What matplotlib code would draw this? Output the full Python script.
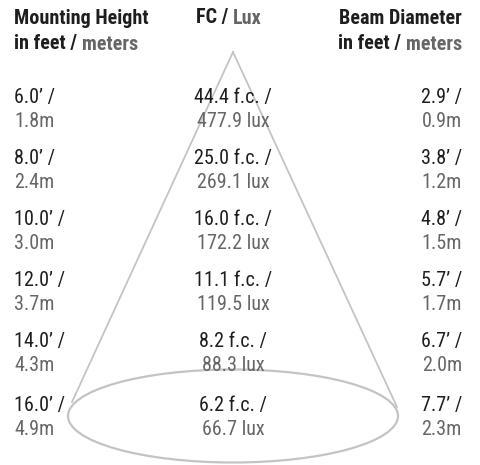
import matplotlib
matplotlib.use("Agg")
import matplotlib.pyplot as plt
from matplotlib.patches import Ellipse

feet = ["6.0’", "8.0’", "10.0’", "12.0’", "14.0’", "16.0’"]
meters = ["1.8m", "2.4m", "3.0m", "3.7m", "4.3m", "4.9m"]
fc = ["44.4 f.c.", "25.0 f.c.", "16.0 f.c.", "11.1 f.c.", "8.2 f.c.", "6.2 f.c."]
lux = ["477.9 lux", "269.1 lux", "172.2 lux", "119.5 lux", "88.3 lux", "66.7 lux"]
beam_ft = ["2.9’", "3.8’", "4.8’", "5.7’", "6.7’", "7.7’"]
beam_m = ["0.9m", "1.2m", "1.5m", "1.7m", "2.0m", "2.3m"]

BLACK = "#1e1e1e"
GREY = "#666666"
LINE = "#c4c4c4"

fig = plt.figure(figsize=(4.8, 4.65), dpi=100)
ax = fig.add_axes([0, 0, 1, 1])
ax.set_xlim(0, 480)
ax.set_ylim(465, 0)
ax.axis("off")

# cone
apex = (233, 52)
ax.plot([apex[0], 72], [apex[1], 402], color=LINE, lw=1.3)
ax.plot([apex[0], 397], [apex[1], 407], color=LINE, lw=1.3)
ax.add_patch(Ellipse((233, 416), 330, 93, fill=False, ec=LINE, lw=1.6))

fs = 14.5
fam = ["Roboto Condensed", "Liberation Sans Narrow", "DejaVu Sans"]

# headers
hdr = dict(fontsize=fs, fontweight="bold", family=fam, va="center")
ax.text(14, 18, "Mounting Height", color=BLACK, ha="left", **hdr)
t = ax.annotate("in feet / ", (14, 44), color=BLACK, ha="left", **hdr)
ax.annotate("meters", xycoords=t, xy=(1, 0.5), color=GREY, ha="left", va="center",
            fontsize=fs, fontweight="bold", family=fam)
t = ax.annotate("FC / ", (196, 18), color=BLACK, ha="left", **hdr)
ax.annotate("Lux", xycoords=t, xy=(1, 0.5), color=GREY, ha="left", va="center",
            fontsize=fs, fontweight="bold", family=fam)
ax.text(462, 18, "Beam Diameter", color=BLACK, ha="right", **hdr)
t = ax.annotate("meters", (462, 44), color=GREY, ha="right", **hdr)
ax.annotate("in feet / ", xycoords=t, xy=(0, 0.5), color=BLACK, ha="right", va="center",
            fontsize=fs, fontweight="bold", family=fam)

rows_top = [97, 158, 219, 280, 341, 405]
gap = 24
body = dict(fontsize=fs, family=fam, va="center")
for i in range(len(feet)):
    y1 = rows_top[i]
    y2 = y1 + gap
    ax.text(14, y1, feet[i] + " /", color=BLACK, ha="left", **body)
    ax.text(14, y2, meters[i], color=GREY, ha="left", **body)
    ax.text(233, y1, fc[i] + " /", color=BLACK, ha="center", **body)
    ax.text(233, y2, lux[i], color=GREY, ha="center", **body)
    ax.text(462, y1, beam_ft[i] + " /", color=BLACK, ha="right", **body)
    ax.text(462, y2, beam_m[i], color=GREY, ha="right", **body)

fig.savefig("out.png", dpi=100)
